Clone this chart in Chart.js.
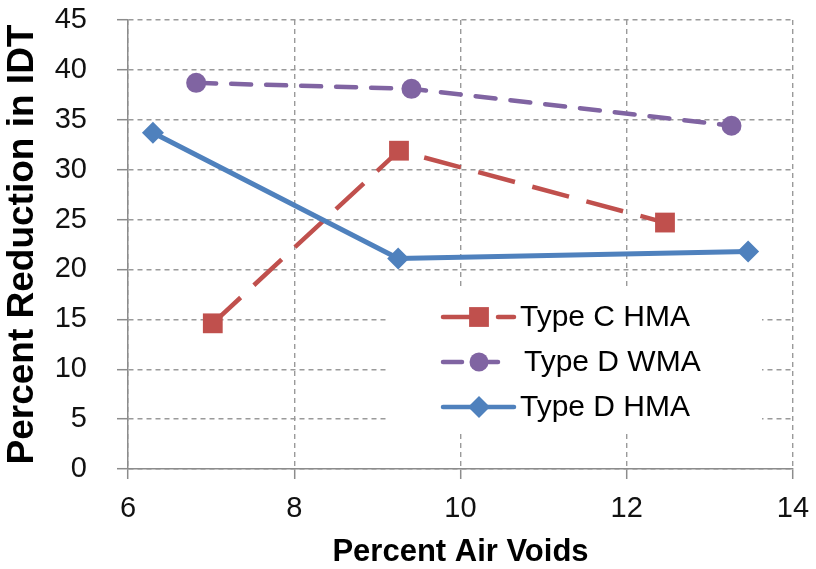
<!DOCTYPE html>
<html>
<head>
<meta charset="utf-8">
<script src="https://cdn.jsdelivr.net/npm/chart.js@4/dist/chart.umd.min.js"></script>
<style>
  html, body { margin: 0; padding: 0; background: #fff; }
  #wrap { width: 816px; height: 569px; }
</style>
</head>
<body>
<div id="wrap"><canvas id="idtChart"></canvas></div>
<script>
// air voids (%) and reduction in IDT (%) per mix
const typeCHmaVoids = [7.02, 9.26, 12.46];
const typeCHmaReduction = [14.6, 31.9, 24.7];
const typeDWmaVoids = [6.82, 9.41, 13.26];
const typeDWmaReduction = [38.7, 38.1, 34.4];
const typeDHmaVoids = [6.30, 9.25, 13.46];
const typeDHmaReduction = [33.7, 21.1, 21.8];

const seriesNames = ["Type C HMA", "Type D WMA", "Type D HMA"];
const xTicks = [6, 8, 10, 12, 14];
const yTicks = [0, 5, 10, 15, 20, 25, 30, 35, 40, 45];

const FONT = "'Liberation Sans', Arial, sans-serif";
const RED = "#c0504d";
const PURPLE = "#8064a2";
const BLUE = "#4f81bd";
const GRID = "#9a9a9a";
const AXIS = "#8c8c8c";

function toPoints(xs, ys) {
  return xs.map((x, i) => ({ x: x, y: ys[i] }));
}

// legend drawn by hand so each entry shows line + marker like the series
const lineLegend = {
  id: "lineLegend",
  afterDraw(chart) {
    const ctx = chart.ctx;
    const area = chart.chartArea;
    const boxLeft = area.left + 260;
    const boxTop = area.top + 270;
    ctx.save();
    ctx.fillStyle = "#fff";
    ctx.fillRect(boxLeft, boxTop, 374, 142);

    const rows = [
      { color: RED, style: "rect", radius: 14, segs: [[0, 27], [55, 71]] },
      { color: PURPLE, style: "circle", radius: 9.5, segs: [[0, 19], [40, 55]] },
      { color: BLUE, style: "rectRot", radius: 11, segs: [[0, 71]] },
    ];
    const lineX = boxLeft + 55;
    rows.forEach((row, i) => {
      const y = boxTop + 27 + i * 45;
      ctx.strokeStyle = row.color;
      ctx.lineWidth = 4.5;
      ctx.lineCap = "round";
      row.segs.forEach((s) => {
        ctx.beginPath();
        ctx.moveTo(lineX + s[0], y);
        ctx.lineTo(lineX + s[1], y);
        ctx.stroke();
      });
      ctx.fillStyle = row.color;
      Chart.helpers.drawPoint(ctx, {
        pointStyle: row.style,
        radius: row.radius,
        borderWidth: 0,
        rotation: 0,
      }, lineX + 36, y);
      ctx.fillStyle = "#000";
      ctx.font = "30px " + FONT;
      ctx.textAlign = "left";
      ctx.textBaseline = "middle";
      ctx.fillText(seriesNames[i], lineX + 77 + (i === 1 ? 4 : 0), y + 1);
    });
    ctx.restore();
  },
};

// keep the plot box where it is, whatever the tick label sizes ask for
function fixPadding(scale) {
  scale.paddingTop = 0;
  scale.paddingBottom = 0;
  scale.paddingLeft = 0;
  scale.paddingRight = 0;
}

new Chart(document.getElementById("idtChart"), {
  type: "line",
  data: {
    datasets: [
      {
        label: seriesNames[0],
        data: toPoints(typeCHmaVoids, typeCHmaReduction),
        borderColor: RED,
        backgroundColor: RED,
        borderWidth: 4.5,
        borderDash: [38, 18],
        pointStyle: "rect",
        pointRadius: 14,
        pointBorderWidth: 0,
        order: 2,
      },
      {
        label: seriesNames[1],
        data: toPoints(typeDWmaVoids, typeDWmaReduction),
        borderColor: PURPLE,
        backgroundColor: PURPLE,
        borderWidth: 4.5,
        borderDash: [20, 15],
        borderCapStyle: "round",
        pointStyle: "circle",
        pointRadius: 10,
        pointBorderWidth: 0,
        order: 1,
      },
      {
        label: seriesNames[2],
        data: toPoints(typeDHmaVoids, typeDHmaReduction),
        borderColor: BLUE,
        backgroundColor: BLUE,
        borderWidth: 5,
        pointStyle: "rectRot",
        pointRadius: 11,
        pointBorderWidth: 0,
        order: 0,
      },
    ],
  },
  options: {
    responsive: true,
    maintainAspectRatio: false,
    animation: false,
    layout: { autoPadding: false, padding: { left: 0, top: 20, right: 23, bottom: 0 } },
    elements: { line: { tension: 0 } },
    plugins: {
      legend: { display: false },
      tooltip: { enabled: false },
    },
    scales: {
      x: {
        type: "linear",
        min: 6,
        max: 14,
        afterFit: (scale) => { scale.height = 100; fixPadding(scale); },
        afterBuildTicks: (scale) => { scale.ticks = xTicks.map((v) => ({ value: v })); },
        ticks: { color: "#111", font: { family: FONT, size: 29 }, padding: 13 },
        grid: { color: GRID, lineWidth: 1.4, tickLength: 10, tickColor: AXIS, tickWidth: 1.5 },
        border: { color: AXIS, width: 1.5, dash: [5, 4] },
        title: {
          display: true,
          text: "Percent Air Voids",
          color: "#000",
          font: { family: FONT, size: 31, weight: "bold", lineHeight: 1.05 },
          padding: { top: 0, bottom: 0 },
        },
      },
      y: {
        type: "linear",
        min: 0,
        max: 45,
        afterFit: (scale) => { scale.width = 128; fixPadding(scale); },
        afterBuildTicks: (scale) => { scale.ticks = yTicks.map((v) => ({ value: v })); },
        ticks: { color: "#111", font: { family: FONT, size: 29 }, padding: 30 },
        grid: { color: GRID, lineWidth: 1.4, tickLength: 11, tickColor: AXIS, tickWidth: 1.5 },
        border: { color: AXIS, width: 1.5, dash: [5, 4] },
        title: {
          display: true,
          text: "Percent Reduction in IDT",
          color: "#000",
          font: { family: FONT, size: 37, weight: "bold" },
          padding: { top: 1, bottom: 0 },
        },
      },
    },
  },
  plugins: [lineLegend],
});
</script>
</body>
</html>
